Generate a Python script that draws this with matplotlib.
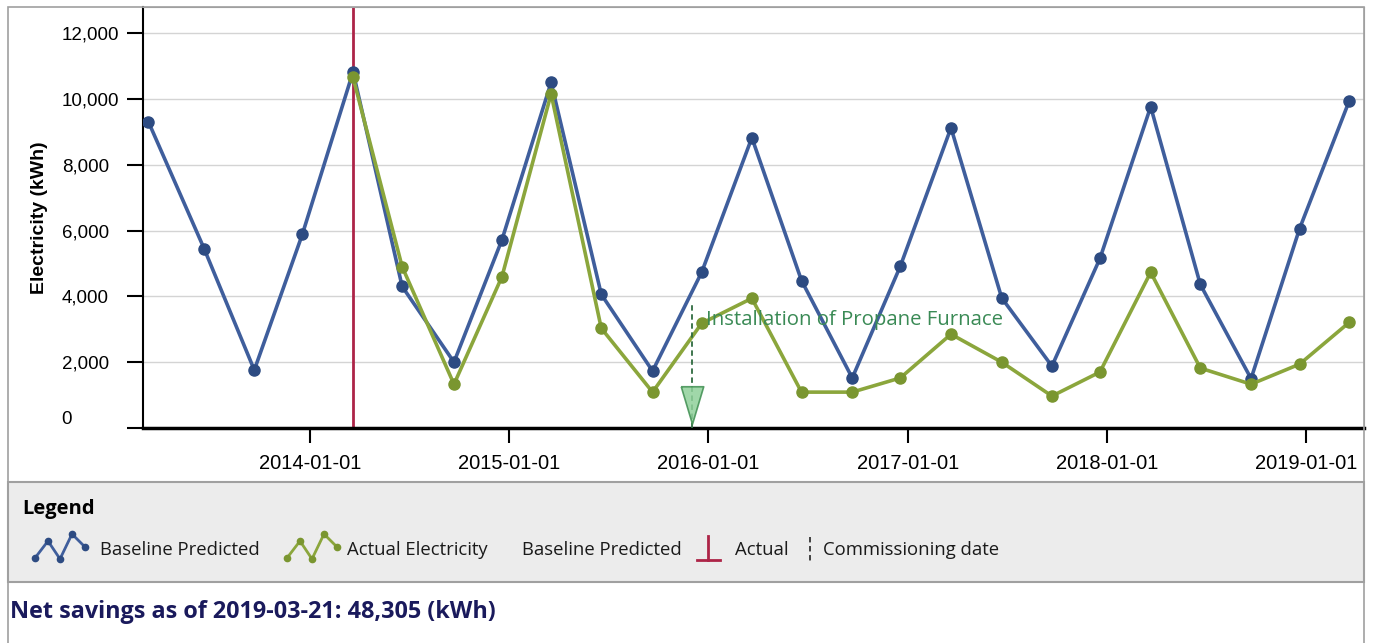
import matplotlib
matplotlib.use("Agg")
import matplotlib.pyplot as plt
import matplotlib.dates as mdates
from matplotlib.patches import Rectangle
from matplotlib.path import Path
from matplotlib.ticker import FuncFormatter
import pandas as pd

# ── data ────────────────────────────────────────────────
dates = ["2013-03-11", "2013-06-21", "2013-09-21", "2013-12-18",
         "2014-03-21", "2014-06-19", "2014-09-22", "2014-12-19",
         "2015-03-19", "2015-06-19", "2015-09-21", "2015-12-20",
         "2016-03-21", "2016-06-20", "2016-09-21", "2016-12-18",
         "2017-03-21", "2017-06-22", "2017-09-22", "2017-12-19",
         "2018-03-22", "2018-06-21", "2018-09-22", "2018-12-20",
         "2019-03-21"]
baseline_kwh = [9300, 5450, 1760, 5880, 10820, 4300, 2000, 5720, 10500,
                4060, 1730, 4730, 8820, 4480, 1520, 4910, 9120, 3950,
                1880, 5150, 9760, 4360, 1500, 6060, 9940]

actual_start = "2014-03-21"
actual_kwh = [10650, 4900, 1330, 4600, 10150, 3030, 1090, 3180, 3940,
              1090, 1090, 1520, 2850, 2000, 970, 1700, 4730, 1820, 1330,
              1940, 3210]

commissioning_date = "2015-12-03"
commissioning_label = "Installation of Propane Furnace"
commissioning_top = 3750
furnace_label_y = 3270

y_ticks = [0, 2000, 4000, 6000, 8000, 10000, 12000]
x_range = ["2013-03-01", "2019-04-17"]
y_range = [0, 12790]

net_savings_date = "2019-03-21"
net_savings_kwh = 48305

legend_labels = ["Baseline Predicted", "Actual Electricity",
                 "Baseline Predicted", "Actual", "Commissioning date"]

# ── styling ─────────────────────────────────────────────
BLUE = "#3F5E9C"
BLUE_DARK = "#2D4B82"
GREEN = "#8BA63C"
GREEN_DARK = "#7A9630"
RED = "#AD2447"
FURNACE = "#3A8A55"
FRAME = "#A0A0A0"
UI_FONT = ["Open Sans", "DejaVu Sans"]
TICK_FONT = ["Liberation Sans", "DejaVu Sans"]

W, H = 1373, 643


def box(x0, y0, x1, y1):
    """pixel box (top-left origin) -> figure rect"""
    return [x0 / W, 1 - y1 / H, (x1 - x0) / W, (y1 - y0) / H]


fig = plt.figure(figsize=(W / 100, H / 100), dpi=100)
fig.patch.set_facecolor("white")

# outer frame of the control
fig.add_artist(Rectangle((8 / W, -0.05), (1364 - 8) / W, 1.05 - 7 / H,
                         transform=fig.transFigure, fill=False,
                         edgecolor=FRAME, linewidth=1.2))

# ── main plot ───────────────────────────────────────────
ax = fig.add_axes(box(143, 7, 1364, 428))

dt = pd.to_datetime(dates)
start_idx = dates.index(actual_start)
actual_dt = dt[start_idx:start_idx + len(actual_kwh)]

ax.plot(dt, baseline_kwh, color=BLUE, linewidth=2.6, marker="o",
        markersize=8, markerfacecolor=BLUE_DARK, markeredgecolor=BLUE_DARK,
        zorder=3)
ax.plot(actual_dt, actual_kwh, color=GREEN, linewidth=2.6, marker="o",
        markersize=8, markerfacecolor=GREEN_DARK, markeredgecolor=GREEN_DARK,
        zorder=4)

# end of baseline / start of actual
ax.axvline(pd.Timestamp(actual_start), color=RED, linewidth=2, zorder=2)

# commissioning marker
comm = pd.Timestamp(commissioning_date)
ax.vlines(comm, 0, commissioning_top, colors="#2F6B40",
          linestyles=(0, (3, 2)), linewidth=1.3, zorder=5)
tri = Path([(-0.6, 1), (0.6, 1), (0, -1), (-0.6, 1)])
ax.plot([comm], [700], marker=tri, markersize=27, markerfacecolor="#8FD09A",
        markeredgecolor="#3E8E50", markeredgewidth=1.2, alpha=0.85,
        linestyle="none", zorder=5)
ax.annotate(commissioning_label, (comm, furnace_label_y),
            xytext=(10, 0), textcoords="offset points", ha="left",
            va="center", fontsize=14.7, color=FURNACE, family=UI_FONT,
            zorder=6)

ax.set_xlim(pd.to_datetime(x_range))
ax.set_ylim(y_range)

ax.set_yticks(y_ticks)
ax.yaxis.set_major_formatter(FuncFormatter(lambda v, _: f"{v:,.0f}"))
ax.xaxis.set_major_locator(mdates.YearLocator())
ax.xaxis.set_major_formatter(mdates.DateFormatter("%Y-%m-%d"))

ax.grid(axis="y", color="#D4D4D4", linewidth=1, zorder=0)
ax.set_axisbelow(True)

ax.tick_params(axis="x", length=11, width=1.5, pad=8, labelsize=14.5,
               colors="black")
ax.tick_params(axis="y", length=11.5, width=1.5, pad=47, labelsize=13.5,
               colors="black")
for lab in ax.get_xticklabels() + ax.get_yticklabels():
    lab.set_family(TICK_FONT)
for lab in ax.get_yticklabels():
    lab.set_horizontalalignment("left")
ax.get_yticklabels()[0].set_verticalalignment("bottom")

ax.set_ylabel("Electricity (kWh)", fontsize=14, fontweight="bold",
              family=TICK_FONT)
ax.yaxis.set_label_coords(-0.078, 0.5)

ax.spines["left"].set_color("black")
ax.spines["left"].set_linewidth(1.5)
ax.spines["bottom"].set_color("black")
ax.spines["bottom"].set_linewidth(2.5)
ax.spines["top"].set_color(FRAME)
ax.spines["right"].set_color(FRAME)

# ── legend panel ────────────────────────────────────────
lax = fig.add_axes(box(8, 482, 1364, 582))
lax.set_xlim(8, 1364)
lax.set_ylim(582, 482)
lax.axis("off")
lax.add_patch(Rectangle((8, 482), 1356, 100, facecolor="#ECECEC",
                        edgecolor=FRAME, linewidth=1.5, clip_on=False))

lax.text(22, 509, "Legend", fontsize=14.5, fontweight="bold",
         family=UI_FONT, va="center", ha="left")

row = 550
zz_dx = [0, 13, 25, 37, 50]
zz_dy = [8, -9, 9, -16, -3]


def zigzag(x0, line_color, dot_color):
    lax.plot([x0 + d for d in zz_dx], [row + d for d in zz_dy],
             color=line_color, linewidth=2, marker="o", markersize=4.5,
             markerfacecolor=dot_color, markeredgecolor=dot_color)


zigzag(35, BLUE, BLUE_DARK)
zigzag(287, GREEN, GREEN_DARK)

# red "start of actual" glyph
lax.plot([708, 708], [536, 560], color=RED, linewidth=2)
lax.plot([697, 720], [560, 560], color=RED, linewidth=2)
# dashed commissioning glyph
lax.plot([810, 810], [537, 563], color="#333333", linewidth=1.3,
         linestyle=(0, (3, 2)))

for x, label in zip([100, 347, 522, 735, 823], legend_labels):
    lax.text(x, row, label, fontsize=13.3, family=UI_FONT, va="center",
             ha="left", color="#1A1A1A")

# ── net savings line ────────────────────────────────────
fig.text(10 / W, 1 - 612 / H,
         f"Net savings as of {net_savings_date}: {net_savings_kwh:,} (kWh)",
         fontsize=16.8, fontweight="bold", color="#1A1A5C", family=UI_FONT,
         va="center", ha="left")

fig.savefig("out.png", dpi=100, facecolor=fig.get_facecolor())
